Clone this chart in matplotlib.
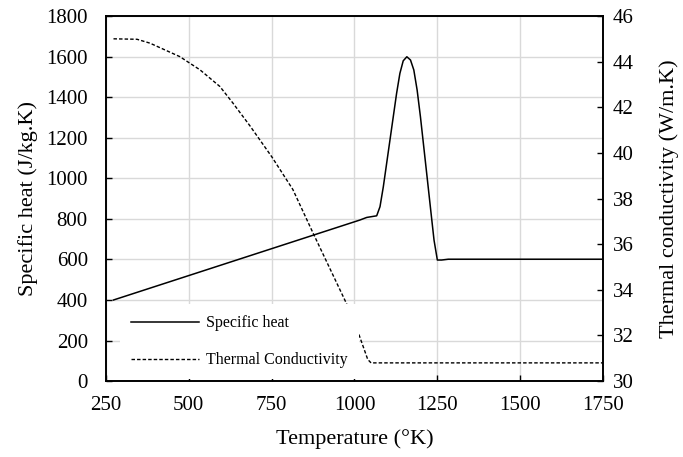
import matplotlib.pyplot as plt
from matplotlib.lines import Line2D

plt.rcParams['font.family'] = ['Liberation Serif', 'DejaVu Serif']

# specific heat (left axis)
temp_cp = [273, 1016, 1037, 1067, 1077, 1087, 1097, 1107, 1117, 1127, 1137,
           1147, 1158, 1169, 1179, 1189, 1199, 1209, 1219, 1230, 1240, 1250,
           1263, 1283, 1750]
cp = [400, 794, 807, 815, 860, 958, 1073, 1188, 1303, 1418, 1517,
      1579, 1599, 1583, 1534, 1435, 1303, 1155, 1007, 843, 695, 597,
      597, 601, 601]

# thermal conductivity (right axis)
temp_k = [273, 344, 383, 473, 534, 594, 633, 685, 751, 814, 875,
          971, 995, 1040, 1050, 1060, 1750]
k = [45.0, 44.98, 44.81, 44.22, 43.64, 42.91, 42.19, 41.18, 39.82, 38.4, 36.49,
     33.55, 32.8, 30.95, 30.8, 30.8, 30.8]

x_ticks = [250, 500, 750, 1000, 1250, 1500, 1750]
cp_ticks = list(range(0, 1801, 200))
k_ticks = list(range(30, 47, 2))

fig = plt.figure(figsize=(6.83, 4.57), dpi=100)
ax = fig.add_axes([0.155, 0.166, 0.728, 0.799])
ax2 = ax.twinx()

ax.plot(temp_cp, cp, color='black', linewidth=1.1)
ax2.plot(temp_k, k, color='black', linewidth=1.0, linestyle=(0, (2.5, 1.5)))

ax.set_xlim(250, 1750)
ax.set_ylim(0, 1800)
ax2.set_ylim(30, 46)
ax.set_xticks(x_ticks)
ax.set_yticks(cp_ticks)
ax2.set_yticks(k_ticks)

ax.grid(True, color='#d9d9d9', linewidth=1.0)
ax.set_axisbelow(True)

for a in (ax, ax2):
    a.tick_params(direction='in', length=4, width=1, labelsize=15, colors='black')
    for s in a.spines.values():
        s.set_linewidth(1.2)
        s.set_color('black')
ax.tick_params(axis='x', pad=11)
ax.tick_params(axis='y', pad=13)
ax2.tick_params(axis='y', pad=7)

ax.set_xlabel('Temperature (°K)', fontsize=16, labelpad=10)
ax.set_ylabel('Specific heat (J/kg.K)', fontsize=16, labelpad=6)
ax2.set_ylabel('Thermal conductivity (W/m.K)', fontsize=16, labelpad=18)

handles = [Line2D([], [], color='black', linewidth=1.1),
           Line2D([], [], color='black', linewidth=1.0, linestyle=(0, (2.5, 1.5)))]
leg = ax2.legend(handles, ['Specific heat', 'Thermal Conductivity'],
                 loc='lower left', bbox_to_anchor=(0.028, 0.005),
                 borderaxespad=0, fontsize=11.5, handlelength=4.25,
                 handletextpad=0.45, labelspacing=1.3, borderpad=0.7,
                 frameon=True, facecolor='white', edgecolor='none',
                 framealpha=1, fancybox=False)

fig.savefig('out.png', dpi=100)
